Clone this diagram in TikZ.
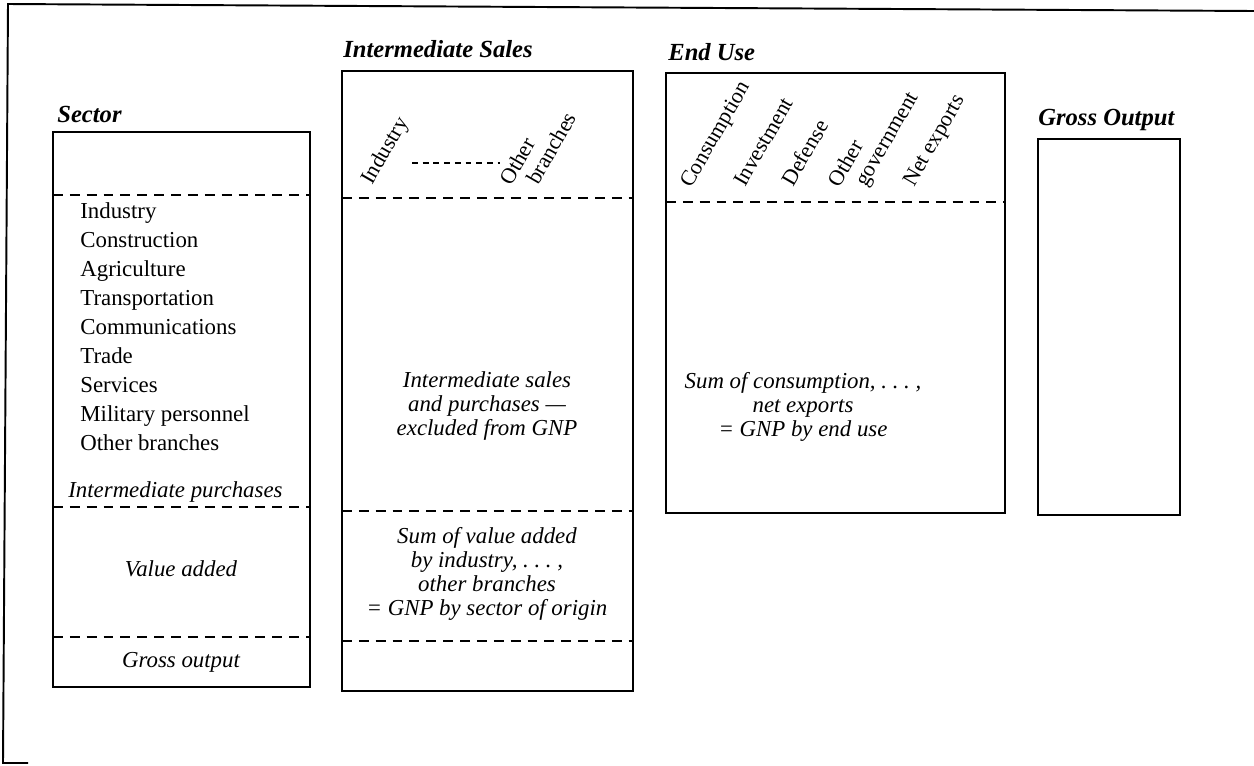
\documentclass[tikz,border=0pt]{standalone}
\usepackage{fontspec}
\setmainfont{Liberation Serif}
\usetikzlibrary{positioning}

\begin{document}
\begin{tikzpicture}[
		x=0.02cm, y=-0.02cm,
		frameline/.style={draw=black, line width=1.1pt},
		boxline/.style={draw=black, line width=1.4pt},
		sepline/.style={draw=black, line width=1pt, dash pattern=on 5.6pt off 4pt},
		dotline/.style={draw=black, line width=0.7pt, dash pattern=on 3.3pt off 2.8pt},
		headnode/.style={font=\fontsize{14}{16}\selectfont\bfseries\itshape, anchor=base west, inner sep=0pt},
		itemnode/.style={font=\fontsize{13}{16}\selectfont, anchor=base west, inner sep=0pt},
		notenode/.style={font=\fontsize{13}{13.8}\selectfont\itshape, align=center, inner sep=0pt},
		tiltnode/.style={font=\fontsize{12.5}{15}\selectfont, rotate=60, anchor=base west, inner sep=0pt},
	]
	\useasboundingbox (0,0) rectangle (1254,765);

	%Frame
	\draw[frameline] (1254,11) -- (8,4) -- (3,763) -- (28,763);

	%Boxes
	\draw[boxline] (53,132) rectangle (310,687);
	\draw[boxline] (342,71) rectangle (633,691);
	\draw[boxline] (666,73) rectangle (1005,513);
	\draw[boxline] (1038,139) rectangle (1180,515);

	%Lines
	\foreach \y in {195,507,637} \draw[sepline] (53,\y) -- (310,\y);
	\foreach \y in {198,511,641} \draw[sepline] (342,\y) -- (633,\y);
	\draw[sepline] (666,202) -- (1005,202);

	%Headings
	\node[headnode] (hsec) at (57,122) {Sector};
	\node[headnode] (hint) at (343,57) {Intermediate Sales};
	\node[headnode] (huse) at (668,60) {End Use};
	\node[headnode] (hgro) at (1038,125) {Gross Output};

	%Sector column
	\foreach \name [count=\i] in {Industry, Construction, Agriculture, Transportation,
		Communications, Trade, Services, Military personnel, Other branches}
		\node[itemnode] (sec\i) at (80,{218+29*(\i-1)}) {\name};
	\node[itemnode, font=\fontsize{13}{16}\selectfont\itshape] (purch) at (68,497) {Intermediate purchases};
	\node[notenode] (vadd) at (181,569) {Value added};
	\node[notenode] (gout) at (181,662) {Gross output};

	%Intermediate sales column
	\node[tiltnode] (tind) at (372,186) {Industry};
	\node[tiltnode] (toth) at (511,187) {Other};
	\node[tiltnode] (tbra) at (538,186) {branches};
	\coordinate (dl) at (412,163);
	\coordinate (dr) at (500,163);
	\draw[dotline] (dl) -- (dr);
	\node[notenode] (isales) at (487,406) {Intermediate sales\\ and purchases ---\\ excluded from GNP};
	\node[notenode] (gnpsec) at (487,574) {Sum of value added\\ by industry, .\ .\ .\ ,\\ other branches\\ = GNP by sector of origin};

	%End use column
	\node[tiltnode] (tcon) at (691,189) {Consumption};
	\node[tiltnode] (tinv) at (745,188) {Investment};
	\node[tiltnode] (tdef) at (793,188) {Defense};
	\node[tiltnode] (togo) at (839,189) {Other};
	\node[tiltnode] (tgov) at (866,188) {government};
	\node[tiltnode] (tnet) at (914,188) {Net exports};
	\node[notenode] (gnpuse) at (803,407) {Sum of consumption, .\ .\ .\ ,\\ net exports\\ = GNP by end use};

\end{tikzpicture}
\end{document}
